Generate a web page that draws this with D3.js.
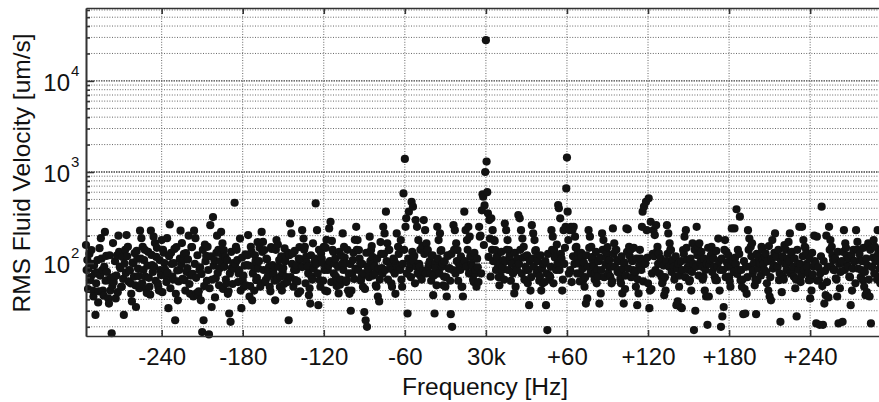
<!DOCTYPE html>
<html><head><meta charset="utf-8">
<script src="https://cdn.jsdelivr.net/npm/d3@7"></script>
<style>
html,body{margin:0;padding:0;background:#fff;}
svg{display:block;font-family:"Liberation Sans",Arial,Helvetica,sans-serif;}
</style></head>
<body>
<svg id="chart" width="879" height="402"></svg>
<script>
// Frequency bins (Hz offset from 30 kHz), 0.5 Hz spacing
const freqStep = 0.5;
const lowStart = -296;   // bins -296 .. -96.5
const midStart = -96;    // bins -96 .. 103.5
const highStart = 104;   // bins 104 .. 293.5

// RMS fluid velocity [um/s]
const velocityLow = [
158,84,108,52,88,126,65,70,139,98,50,43,95,77,27,60,79,108,37,49,
146,73,188,112,84,50,44,91,220,64,120,80,65,41,36,122,50,69,17,56,
166,62,71,105,41,73,122,48,200,133,91,88,55,55,117,67,27,99,140,78,
203,119,151,63,84,83,60,46,38,101,100,71,129,57,33,136,112,87,72,53,
227,112,188,60,151,84,108,140,71,52,47,94,133,69,55,45,227,123,95,80,
195,91,166,64,117,147,60,55,50,108,84,74,179,48,140,130,100,85,72,62,
188,78,32,119,266,53,130,98,71,66,100,143,23.6,46,150,83,39,63,84,112,
227,97,166,67,108,126,65,50,129,80,88,110,200,59,46,73,150,150,76,43,
227,98,188,69,47,122,44.5,49,84,90,39,76,17.5,140,23.6,56,160,105,120,64,
151,84,16.5,53,261,119,33,66,320,94,108,42,68,130,200,78,140,57,88,105,
220,126,165,52,139,91,117,66,60,108,46,49,28,77,22.7,133,88,59,100,87,
460,98,151,140,108,62,77,84,186,50,32,115,65,73,55,94,125,57,95,122,
203,94,43,56,151,133,39,77,91,50,122,105,65,69,170,87,105,147,55,60,
220,133,171,84,139,62,65,112,110,71,84,91,55,49,150,143,95,80,75,64,
39,140,179,66,160,91,108,55,71,119,50,78,88,59,145,105,120,70,62,130,
23.6,122,272,70,212,98,128,55,84,136,65,84,95,63,46.5,112,150,49,110,91,
230,91,186,140,151,60,117,101,91,77,44.5,53,36,122,71,66,165,87,100,112,
452,98,230,77,34.5,140,65,55,128,112,100,64,151,84,50,147,180,49,84,94,
240,105,284,62,175,140,133,77,99,112,71,56,65,91,46.5,133,58,66,120,98,
212,84,151,115,99,62,65,140,50,77,46,98,30,50,77,108,130,67,180,87
];
const velocityMid = [
250,140,179,84,139,112,99,64,71,98,55,77,29,52,23.6,130,20,91,84,70,
195,105,139,154,117,73,99,91,77,57,55,112,43,87,38,66,170,126,88,77,
250,126,212,84,367,105,165,66,139,140,99,91,60,55,84,112,108,77,46,98,
212,91,151,126,91,84,179,66,55,98,582,140,1390,250,310,77,28,112,367,87,
98,70,470,133,416,105,120,60,297,91,250,77,179,98,91,140,71,66,155,82,
297,126,230,77,165,140,139,91,99,105,77,64,120,122,44.5,73,28,98,88,57,
250,112,179,77,212,136,139,91,99,57,71,105,55,70,43,122,120,87,88,64,
27.5,126,20,84,261,140,230,77,165,105,139,64,99,91,84,119,55,55,43,98,
367,105,230,91,179,140,250,77,195,119,117,98,91,66,62,130,77,84,55,112,
90,62,250,195,200,77,380,570,535,158,430,1000,28000,1300,600,352,117,297,186,71,
310,140,230,105,179,175,139,84,117,115,91,70,57,98,71,133,84,91,108,66,
272,105,230,140,179,84,139,119,108,64,99,98,77,80,46.5,130,55,91,84,112,
337,98,310,140,230,77,186,115,151,66,117,91,84,122,60,84,34.5,105,50,70,
261,112,212,91,179,136,139,77,117,105,84,64,71,122,50,87,60,98,99,62,
105,34.5,77,18.4,126,74,66,71,91,230,140,195,60,139,115,117,84,160,98,434,
400,84,310,126,112,50,66,230,98,147,250,660,1440,367,179,77,230,84,250,62,
230,119,250,98,195,147,151,77,128,112,99,63,77,130,117,87,65,101,55,70,
36,122,41,91,230,147,195,77,151,112,117,98,91,66,77,133,60,84,71,105,
36,115,46.5,84,212,140,179,70,139,98,117,130,150,77,91,108,71,91,60,63,
240,126,165,91,139,140,108,80,84,105,77,66,60,119,46.5,87,36,101,52,73
];
const velocityHigh = [
240,133,235,87,151,119,139,70,108,105,84,147,71,80,55,112,34.5,66,46.5,94,
140,112,84,250,367,63,416,98,99,470,230,115,60,514,32,50,284,52,77,126,
230,119,203,84,261,133,151,98,128,77,99,112,71,60,65,94,44.5,70,50,105,
261,126,212,91,165,140,139,80,108,105,91,66,71,119,34.5,87,38,98,55,73,
33,105,32,84,139,126,195,70,230,147,108,91,84,63,65,112,50,80,165,98,
18.4,140,30,91,250,122,151,73,165,101,117,133,91,66,71,112,50,84,43,98,
21,147,43,98,108,122,151,80,128,112,91,70,65,136,65,91,186,105,50,84,
20,112,26,84,33,140,179,70,133,101,91,122,71,63,55,91,240,105,108,80,
240,115,98,390,76,140,84,126,323,65,84,55,66,27.5,105,52,28,91,46,70,
230,140,186,91,151,119,165,77,84,101,57,66,27.5,126,65,87,117,105,99,73,
151,140,108,98,84,119,128,80,60,105,50,154,43,70,39,112,179,87,95,130,
212,126,117,91,91,140,65,77,22.7,105,48,119,71,66,158,98,140,84,99,112,
171,105,212,77,128,133,84,91,71,112,53,66,26,140,99,84,250,98,62,73,
250,119,179,84,151,147,128,98,91,77,65,112,41,66,50,130,75,91,200,105,
98,21.8,195,64,90,65,21,77,119,416,56,21,105,36,82,44.5,200,62,91,42,
250,140,179,91,151,122,108,84,84,112,68,66,43,133,21.8,98,53,80,100,105,
22.7,133,230,84,165,147,122,94,91,112,71,70,34.5,122,50,87,140,105,105,60,
230,140,171,87,139,126,108,70,84,105,65,147,55,80,44.5,112,48,94,165,66,
43,140,21.8,91,91,115,179,77,151,105,117,66,230,130,71,87,60,98,139,73
];

const xTickValues = [-240,-180,-120,-60,0,60,120,180,240];
const xTickLabels = ["-240","-180","-120","-60","30k","+60","+120","+180","+240"];
const yDecades = [100,1000,10000];
const yExponents = ["2","3","4"];
const xLabel = "Frequency [Hz]";
const yLabel = "RMS Fluid Velocity [um/s]";

function toPoints(arr, start){ return arr.map((v,i)=>({f:start+i*freqStep, v:v})); }
const points = [].concat(toPoints(velocityLow,lowStart), toPoints(velocityMid,midStart), toPoints(velocityHigh,highStart));

const svg = d3.select("#chart");
const L=86, R=885.8, T=8, B=336;
const x = d3.scaleLinear().domain([-296,296]).range([L,R]);
const y = d3.scaleLog().domain([Math.pow(10,1.2),Math.pow(10,4.8)]).range([B,T]);

const font = '"Liberation Sans",Arial,Helvetica,sans-serif';

// Grid
const grid = svg.append("g");
const minorVals = y.ticks().filter(v=>!yDecades.includes(v));
grid.selectAll("line.hmin").data(minorVals).enter().append("line")
  .attr("x1",L).attr("x2",R).attr("y1",d=>y(d)).attr("y2",d=>y(d))
  .attr("stroke","#666").attr("stroke-width",1).attr("stroke-dasharray","1,1.6");
grid.selectAll("line.hmaj").data(yDecades).enter().append("line")
  .attr("x1",L).attr("x2",R).attr("y1",d=>y(d)).attr("y2",d=>y(d))
  .attr("stroke","#444").attr("stroke-width",1.3).attr("stroke-dasharray","1.5,1");
grid.selectAll("line.v").data(xTickValues).enter().append("line")
  .attr("y1",T).attr("y2",B).attr("x1",d=>x(d)).attr("x2",d=>x(d))
  .attr("stroke","#666").attr("stroke-width",1).attr("stroke-dasharray","1,1.6");

// Points
svg.append("g").selectAll("circle").data(points).enter().append("circle")
  .attr("cx",d=>x(d.f)).attr("cy",d=>y(d.v)).attr("r",4.1).attr("fill","#121212");

// Axes
function styleAxis(g){
  g.select(".domain").attr("stroke","#333").attr("stroke-width",1.6);
  g.selectAll(".tick line").attr("stroke","#333").attr("stroke-width",1.6);
}
const xb = svg.append("g").attr("transform",`translate(0,${B})`)
  .call(d3.axisBottom(x).tickValues(xTickValues).tickFormat((d,i)=>xTickLabels[i])
    .tickSizeInner(-6).tickSizeOuter(0).tickPadding(12));
styleAxis(xb);
xb.selectAll("text").attr("font-size","24px").attr("font-family",font).attr("fill","#111");

const xt = svg.append("g").attr("transform",`translate(0,${T})`)
  .call(d3.axisTop(x).tickValues(xTickValues).tickFormat("").tickSizeInner(-6).tickSizeOuter(0));
styleAxis(xt);

const yl = svg.append("g").attr("transform",`translate(${L},0)`)
  .call(d3.axisLeft(y).tickValues(yDecades).tickFormat("").tickSizeInner(-8).tickSizeOuter(0));
styleAxis(yl);
const ylm = svg.append("g").attr("transform",`translate(${L},0)`)
  .call(d3.axisLeft(y).tickValues(minorVals).tickFormat("").tickSizeInner(-4).tickSizeOuter(0));
styleAxis(ylm);

// y tick labels with superscripts
const yt = svg.append("g");
yDecades.forEach((d,i)=>{
  yt.append("text").attr("x",70).attr("y",y(d)+10).attr("text-anchor","end")
    .attr("font-size","24px").attr("font-family",font).attr("fill","#111").text("10");
  yt.append("text").attr("x",71).attr("y",y(d)-5).attr("text-anchor","start")
    .attr("font-size","15px").attr("font-family",font).attr("fill","#111").text(yExponents[i]);
});

// Axis labels
svg.append("text").attr("x",485).attr("y",395).attr("text-anchor","middle")
  .attr("font-size","24.5px").attr("font-family",font).attr("fill","#111").text(xLabel);
svg.append("text").attr("transform","translate(30,173) rotate(-90)").attr("text-anchor","middle")
  .attr("font-size","24.5px").attr("font-family",font).attr("fill","#111").text(yLabel);
</script>
</body></html>
